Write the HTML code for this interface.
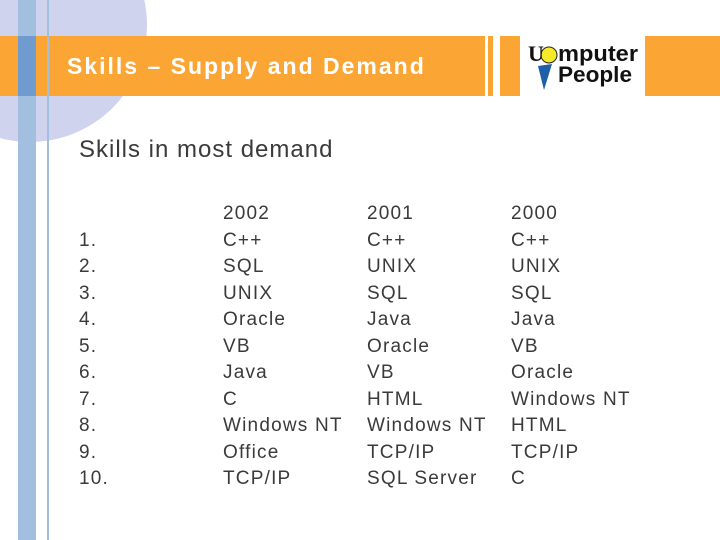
<!DOCTYPE html>
<html><head><meta charset="utf-8"><style>
body{margin:0;width:720px;height:540px;overflow:hidden;background:#fff;position:relative;font-family:"Liberation Sans",sans-serif}
div{position:absolute}
.t{color:#3a3a3a;font-size:19px;line-height:26.5px;white-space:pre;letter-spacing:1.2px}
</style></head><body>
<div style="left:0;top:0;width:150px;height:150px;overflow:hidden">
<div style="left:-87px;top:-92px;width:234px;height:234px;border-radius:50%;background:#d0d3ee"></div></div>
<div style="left:0;top:36px;width:485px;height:60px;background:#fba534"></div>
<div style="left:488px;top:36px;width:5px;height:60px;background:#fba534"></div>
<div style="left:500px;top:36px;width:20px;height:60px;background:#fba534"></div>
<div style="left:645px;top:36px;width:75px;height:60px;background:#fba534"></div>
<div style="left:18px;top:0;width:18px;height:540px;background:#a2bfe0"></div>
<div style="left:18px;top:36px;width:18px;height:60px;background:#6f9bcf"></div>
<div style="left:47px;top:0;width:2px;height:540px;background:#a2bfe0"></div>
<div style="left:67px;top:53px;font-size:23px;font-weight:bold;color:#fff;letter-spacing:2px;white-space:nowrap">Skills – Supply and Demand</div>
<div style="left:528px;top:40px;width:112px;height:52px">
<svg width="112" height="52"><circle cx="21" cy="15" r="8" fill="#f4ea2a" stroke="#222" stroke-width="1"/><polygon points="10,26 24,24 16,50" fill="#1f5fa8"/>
<text x="0" y="21" font-family="Liberation Serif,serif" font-weight="bold" font-size="22" fill="#111">U</text>
<text x="30" y="21" font-family="Liberation Sans Narrow,Liberation Sans,sans-serif" font-weight="bold" font-size="22" fill="#111" textLength="80" lengthAdjust="spacingAndGlyphs">mputer</text>
<text x="30" y="42" font-family="Liberation Sans Narrow,Liberation Sans,sans-serif" font-weight="bold" font-size="22" fill="#111" textLength="74" lengthAdjust="spacingAndGlyphs">People</text></svg></div>
<div style="left:79px;top:136px;font-size:24px;color:#3a3a3a;letter-spacing:1px;white-space:nowrap">Skills in most demand</div>
<div class="t" style="left:79px;top:201px">
1.
2.
3.
4.
5.
6.
7.
8.
9.
10.</div>
<div class="t" style="left:223px;top:201px">2002
C++
SQL
UNIX
Oracle
VB
Java
C
Windows NT
Office
TCP/IP</div>
<div class="t" style="left:367px;top:201px">2001
C++
UNIX
SQL
Java
Oracle
VB
HTML
Windows NT
TCP/IP
SQL Server</div>
<div class="t" style="left:511px;top:201px">2000
C++
UNIX
SQL
Java
VB
Oracle
Windows NT
HTML
TCP/IP
C</div>
</body></html>
